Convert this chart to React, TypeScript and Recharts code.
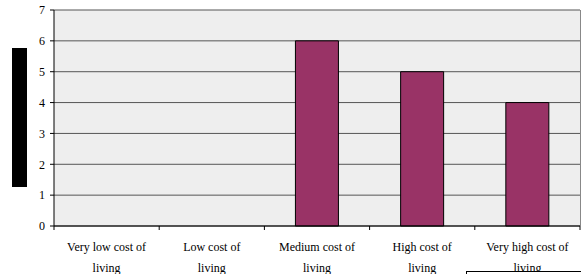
import React from 'react';
import { BarChart, Bar, XAxis, YAxis, CartesianGrid } from 'recharts';

const categories = [
  'Very low cost of living',
  'Low cost of living',
  'Medium cost of living',
  'High cost of living',
  'Very high cost of living',
];
const counts = [0, 0, 6, 5, 4];
const yTicks = [0, 1, 2, 3, 4, 5, 6, 7];

const data = categories.map((name, i) => ({ name, value: counts[i] }));

const FONT = '"Liberation Serif", "Times New Roman", serif';

// category label split in two lines, tick mark drawn at the left band edge (Excel style)
const CatTick = (props: any) => {
  const { x, y, payload } = props;
  const band = 526 / categories.length;
  const words = String(payload.value).split(' ');
  const last = words.pop();
  const first = words.join(' ');
  return (
    <g>
      <line x1={x - band / 2} x2={x - band / 2} y1={y - 8} y2={y - 4} stroke="#000" />
      {payload.index === categories.length - 1 && (
        <line x1={x + band / 2} x2={x + band / 2} y1={y - 8} y2={y - 4} stroke="#000" />
      )}
      <text x={x} y={y + 17} textAnchor="middle" fontSize={12} fontFamily={FONT} fill="#000">
        {first}
      </text>
      <text x={x} y={y + 38} textAnchor="middle" fontSize={12} fontFamily={FONT} fill="#000">
        {last}
      </text>
    </g>
  );
};

export default function App() {
  return (
    <div style={{ position: 'absolute', left: 0, top: 0, width: 581, height: 274, background: '#fff', overflow: 'hidden' }}>
      <div style={{ position: 'absolute', left: 12, top: 48, width: 15, height: 139, background: '#000' }} />
      <BarChart
        width={581}
        height={274}
        data={data}
        margin={{ top: 10, right: 1, left: 0, bottom: 0 }}
        barCategoryGap="29.5%"
      >
        <CartesianGrid vertical={false} stroke="#555" fill="#eeeeee" />
        <XAxis
          dataKey="name"
          height={48}
          interval={0}
          axisLine={{ stroke: '#000' }}
          tickLine={false}
          tick={<CatTick />}
        />
        <YAxis
          width={54}
          domain={[0, 7]}
          ticks={yTicks}
          interval={0}
          tickSize={4}
          tickMargin={5}
          axisLine={{ stroke: '#000' }}
          tickLine={{ stroke: '#000' }}
          tick={{ fontSize: 12, fontFamily: FONT, fill: '#000' }}
        />
        <Bar dataKey="value" fill="#993366" stroke="#000" strokeWidth={1} isAnimationActive={false} />
      </BarChart>
      <div style={{ position: 'absolute', left: 580, top: 10, width: 1, height: 216, background: '#888' }} />
      <div style={{ position: 'absolute', left: 466, top: 271, width: 120, height: 20, background: '#fff', border: '1px solid #000' }} />
    </div>
  );
}
